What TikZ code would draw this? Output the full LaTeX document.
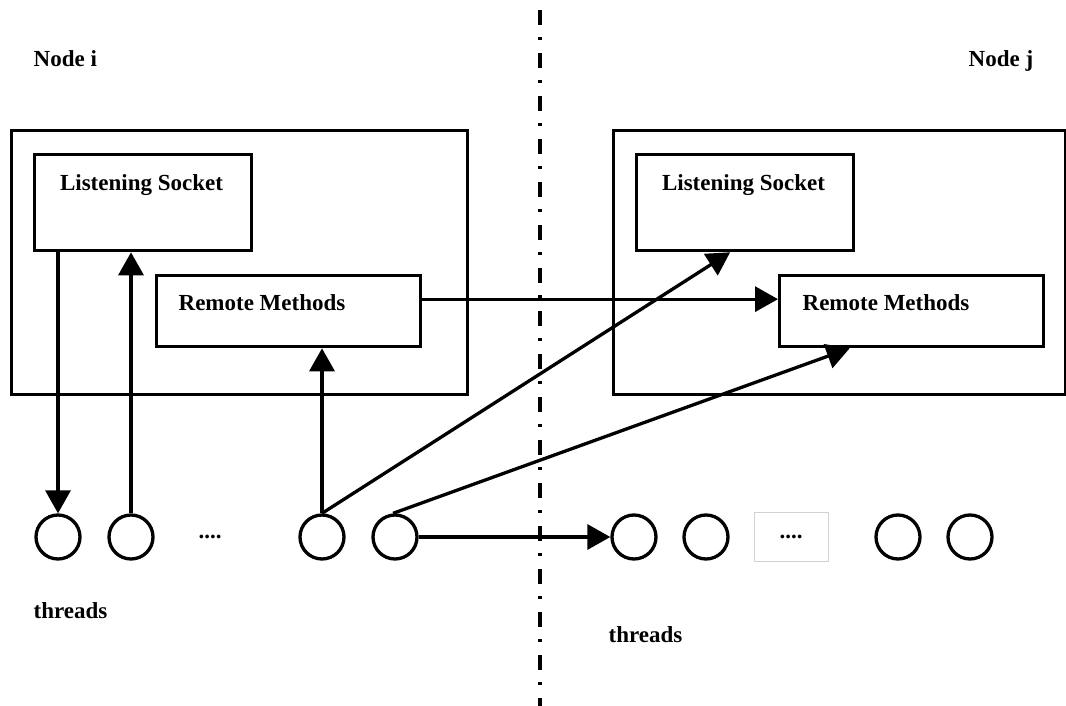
\documentclass[tikz,border=0pt]{standalone}
\usepackage{fontspec}
\setmainfont{Liberation Serif}
\usetikzlibrary{arrows.meta}

\begin{document}
\begin{tikzpicture}[x=1pt,y=-1pt,
	font=\fontsize{23}{27}\selectfont\bfseries,
	every path/.style={line width=3.3pt},
	outerbox/.style={draw,rectangle,inner sep=0pt,anchor=north west},
	innerbox/.style={draw,rectangle,inner sep=0pt,anchor=north west},
	thread/.style={draw,circle,minimum size=44pt,inner sep=0pt},
	arr/.style={-{Triangle[length=23pt,width=25pt]}},
	lbl/.style={inner sep=0pt,anchor=base west}]
	\useasboundingbox (0,0) rectangle (1066,706);

	% separator between the two nodes
	\draw[line width=4pt,dash pattern=on 15pt off 12pt on 3pt off 13pt] (540,10) -- (540,706);

	\node[lbl] (nodei) at (32,67) {Node i};
	\node[lbl] (nodej) at (967,67) {Node j};

	% node i
	\node[outerbox,minimum width=456pt,minimum height=264pt] (boxi) at (10,129) {};
	\node[innerbox,minimum width=217pt,minimum height=96pt] (lsi) at (33,153) {};
	\node[lbl,anchor=base] at (141.5,190) {Listening Socket};
	\node[innerbox,minimum width=264pt,minimum height=71pt] (rmi) at (155,274) {};
	\node[lbl] at (177,310) {Remote Methods};

	% node j
	\node[outerbox,minimum width=452pt,minimum height=264pt] (boxj) at (612,129) {};
	\node[innerbox,minimum width=217pt,minimum height=96pt] (lsj) at (635,153) {};
	\node[lbl,anchor=base] at (743.5,190) {Listening Socket};
	\node[innerbox,minimum width=264pt,minimum height=71pt] (rmj) at (778,274) {};
	\node[lbl] at (801,310) {Remote Methods};

	% threads
	\node[thread] (t1) at (58,537) {};
	\node[thread] (t2) at (131,537) {};
	\node (dotsi) at (210,537) {....};
	\node[thread] (t3) at (322,537) {};
	\node[thread] (t4) at (395,537) {};
	\node[thread] (t5) at (634,537) {};
	\node[thread] (t6) at (706,537) {};
	\node[draw=gray!35,line width=1pt,minimum width=74pt,minimum height=49pt] (dotsj) at (791,537) {....};
	\node[thread] (t7) at (898,537) {};
	\node[thread] (t8) at (970,537) {};

	\node[lbl] (thri) at (32,618) {threads};
	\node[lbl] (thrj) at (607,642) {threads};

	% connectors
	\draw[arr] (t1.north |- lsi.south) -- (t1.north);
	\draw[arr] (t2.north) -- (t2.north |- lsi.south);
	\draw[arr] (t3.north) -- (t3.north |- rmi.south);
	\draw[arr] ([yshift=12pt]rmi.east) -- ([yshift=12pt]rmj.west);
	\draw[arr] (t3.north) -- ([xshift=-15pt]lsj.south);
	\draw[arr] ([xshift=-2pt]t4.north) -- ([xshift=-62pt]rmj.south);
	\draw[arr] (t4.east) -- (t5.west);
\end{tikzpicture}
\end{document}
